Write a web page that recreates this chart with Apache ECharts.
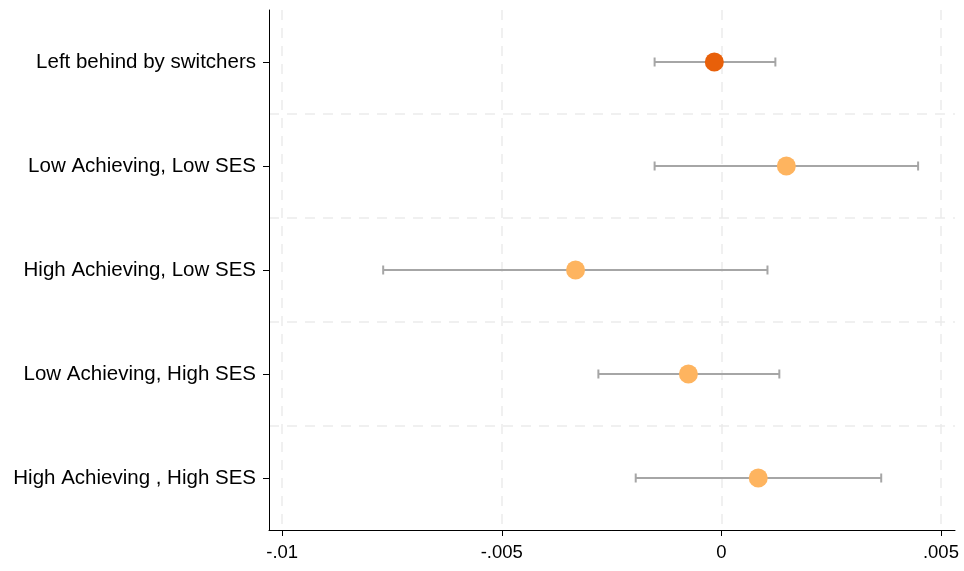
<!DOCTYPE html>
<html>
<head>
<meta charset="utf-8">
<script src="https://cdn.jsdelivr.net/npm/echarts@6/dist/echarts.min.js"></script>
<style>html,body{margin:0;padding:0;background:#fff;}#c{width:964px;height:571px;}</style>
</head>
<body>
<div id="c"></div>
<script>
const categories = ["Left behind by switchers", "Low Achieving, Low SES", "High Achieving, Low SES", "Low Achieving, High SES", "High Achieving , High SES"];
const estimates = [-0.00016, 0.00148, -0.00332, -0.00075, 0.00084];
const ciLow = [-0.00152, -0.00152, -0.0077, -0.0028, -0.00195];
const ciHigh = [0.00123, 0.00448, 0.00105, 0.00132, 0.00364];
const pointColors = ["#e8600a", "#feb45f", "#feb45f", "#feb45f", "#feb45f"];
const xTicks = [-0.01, -0.005, 0, 0.005];
const xTickLabels = ["-.01", "-.005", "0", ".005"];

const chart = echarts.init(document.getElementById('c'));
const errData = categories.map((c, i) => [ciLow[i], ciHigh[i], i]);
const ptData = categories.map((c, i) => ({ value: [estimates[i], i], itemStyle: { color: pointColors[i], opacity: 1 } }));

chart.setOption({
  animation: false,
  textStyle: { fontFamily: 'Liberation Sans, Arial, sans-serif' },
  grid: { left: 269, right: 9, top: 10, bottom: 41 },
  xAxis: {
    type: 'value',
    min: -0.0103,
    max: 0.00532,
    axisLine: { show: true, onZero: false, lineStyle: { color: '#000', width: 1 } },
    axisTick: { show: true, length: 6, customValues: xTicks, lineStyle: { color: '#000' } },
    axisLabel: {
      customValues: xTicks,
      color: '#000', fontSize: 18.5, margin: 13,
      formatter: v => { const i = xTicks.findIndex(t => Math.abs(t - v) < 1e-9); return i >= 0 ? xTickLabels[i] : ''; }
    },
    splitLine: { show: true, lineStyle: { color: '#ebebeb', type: [10, 8], width: 1.5 } }
  },
  yAxis: {
    type: 'category',
    data: categories,
    inverse: true,
    boundaryGap: true,
    axisLine: { show: true, onZero: false, lineStyle: { color: '#000', width: 1 } },
    axisTick: { show: true, alignWithLabel: true, length: 6, lineStyle: { color: '#000' } },
    axisLabel: { color: '#000', fontSize: 20.5, margin: 13 },
    splitLine: { show: true, showMinLine: false, showMaxLine: false, lineStyle: { color: '#ebebeb', type: [10, 8], width: 1.5 } }
  },
  series: [
    {
      type: 'custom',
      data: errData,
      encode: { x: [0, 1], y: 2 },
      renderItem: function (params, api) {
        const lo = api.coord([api.value(0), api.value(2)]);
        const hi = api.coord([api.value(1), api.value(2)]);
        const h = 4.5;
        const style = { stroke: '#a6a6a6', lineWidth: 2 };
        return {
          type: 'group',
          children: [
            { type: 'line', shape: { x1: lo[0], y1: lo[1], x2: hi[0], y2: hi[1] }, style },
            { type: 'line', shape: { x1: lo[0], y1: lo[1] - h, x2: lo[0], y2: lo[1] + h }, style },
            { type: 'line', shape: { x1: hi[0], y1: hi[1] - h, x2: hi[0], y2: hi[1] + h }, style }
          ]
        };
      },
      z: 2
    },
    {
      type: 'scatter',
      data: ptData,
      symbol: 'circle',
      symbolSize: 19,
      z: 3
    }
  ]
});
</script>
</body>
</html>
